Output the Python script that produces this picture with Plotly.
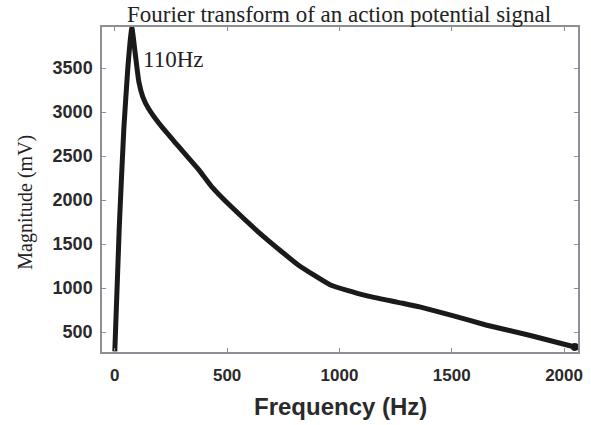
import plotly.graph_objects as go

freq_hz = [0, 20, 40, 58, 68, 76, 90, 107, 125, 150, 200, 273, 374, 432, 520, 669, 815, 960, 1110, 1256, 1357, 1500, 1652, 1850, 2048]
magnitude_mv = [280, 1700, 2800, 3500, 3800, 3960, 3683, 3343, 3170, 3040, 2860, 2640, 2343, 2150, 1920, 1570, 1265, 1035, 920, 840, 785, 690, 580, 460, 330]

x_ticks = [0, 500, 1000, 1500, 2000]
y_ticks = [500, 1000, 1500, 2000, 2500, 3000, 3500]

fig = go.Figure()
fig.add_trace(go.Scatter(
    x=freq_hz, y=magnitude_mv, mode="lines",
    line=dict(color="#1a1a1a", width=5, shape="spline", smoothing=0.4),
    showlegend=False, hoverinfo="skip"))
fig.add_trace(go.Scatter(
    x=[freq_hz[-1]], y=[magnitude_mv[-1]], mode="markers",
    marker=dict(color="#1a1a1a", size=8), showlegend=False, hoverinfo="skip"))

serif = "Liberation Serif"
sans = "Liberation Sans"

fig.add_annotation(x=115, y=3593, xanchor="left", yanchor="middle",
                   text="110Hz", showarrow=False,
                   font=dict(family=serif, size=23, color="#222"))

# Title and axis titles placed as annotations in paper coordinates
fig.add_annotation(xref="paper", yref="paper", x=0.497, y=1.083,
                   xanchor="center", yanchor="top", showarrow=False,
                   text="Fourier transform of an action potential signal",
                   font=dict(family=serif, size=23, color="#222"))
fig.add_annotation(xref="paper", yref="paper", x=0.501, y=-0.169,
                   xanchor="center", yanchor="middle", showarrow=False,
                   text="Frequency (Hz)",
                   font=dict(family=sans, size=24, color="#2a2a2a", weight="bold"))
fig.add_annotation(xref="paper", yref="paper", x=-0.16, y=0.462,
                   xanchor="center", yanchor="middle", showarrow=False,
                   textangle=-90, text="Magnitude (mV)",
                   font=dict(family=serif, size=20, color="#222"))

axis_common = dict(showline=True, linecolor="#8a9096", linewidth=1.5, mirror="ticks",
                   ticks="inside", ticklen=4, tickcolor="#8a9096", showgrid=False,
                   zeroline=False)

fig.update_layout(
    width=591, height=425,
    margin=dict(l=102, r=8, t=27, b=73),
    paper_bgcolor="white", plot_bgcolor="white",
    xaxis=dict(range=[-57, 2062], tickvals=x_ticks, ticktext=[str(v) for v in x_ticks],
               ticklabelstandoff=7,
               tickfont=dict(family=sans, size=17, color="#2a2a2a", weight="bold"),
               **axis_common),
    yaxis=dict(range=[273, 3966], tickvals=y_ticks, ticktext=[str(v) for v in y_ticks],
               ticklabelstandoff=4,
               tickfont=dict(family=sans, size=18, color="#2a2a2a", weight="bold"),
               **axis_common),
)

fig.write_html("out.html")
